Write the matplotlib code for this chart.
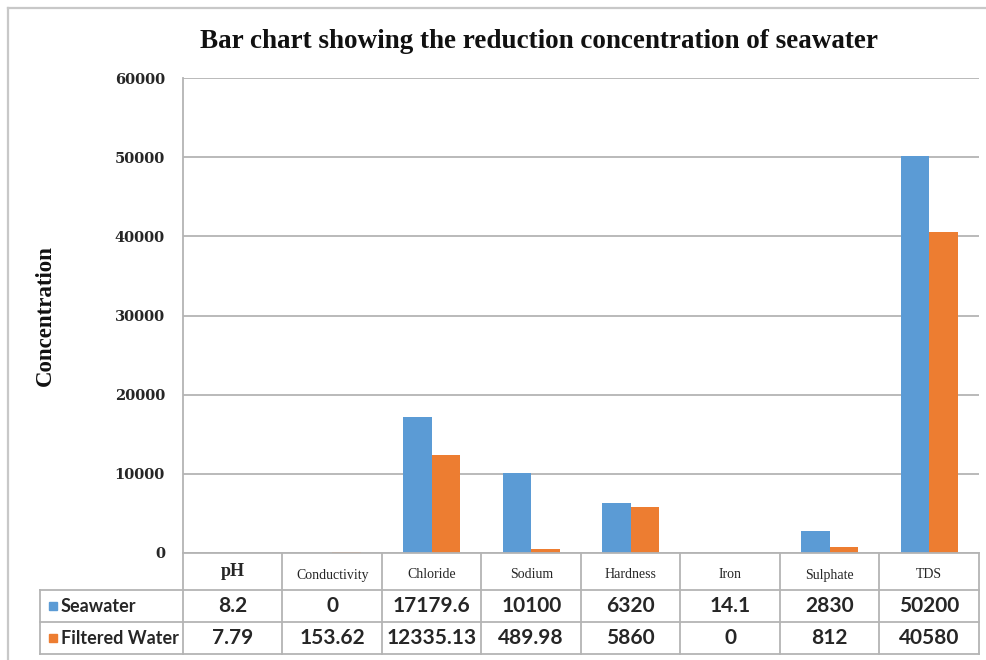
import matplotlib
matplotlib.use("Agg")
import matplotlib.pyplot as plt
from matplotlib.lines import Line2D
from matplotlib.patches import Rectangle
from matplotlib import transforms
import numpy as np

categories = ["pH", "Conductivity", "Chloride", "Sodium", "Hardness", "Iron", "Sulphate", "TDS"]
series_names = ["Seawater", "Filtered Water"]
seawater = [8.2, 0, 17179.6, 10100, 6320, 14.1, 2830, 50200]
filtered = [7.79, 153.62, 12335.13, 489.98, 5860, 0, 812, 40580]
y_ticks = [0, 10000, 20000, 30000, 40000, 50000, 60000]

BLUE = "#5B9BD5"
ORANGE = "#ED7D31"
GRID = "#B4B4B4"
TEXT = "#262626"
W, H = 987, 660

fig = plt.figure(figsize=(W / 100, H / 100), dpi=100)
ax = fig.add_axes([183 / W, 1 - 553 / H, 796 / W, 475 / H])

x = np.arange(len(categories))
bw = 1 / 3.5
ax.bar(x - bw / 2, seawater, bw, color=BLUE, zorder=3)
ax.bar(x + bw / 2, filtered, bw, color=ORANGE, zorder=3)
ax.set_xlim(-0.5, len(categories) - 0.5)
ax.set_ylim(0, 60000)
ax.set_yticks(y_ticks)
ax.set_yticklabels([str(t) for t in y_ticks], fontfamily="DejaVu Serif",
                   fontweight="bold", fontsize=10.5, color=TEXT)
ax.tick_params(axis="y", length=0, pad=13)
ax.set_xticks([])
ax.yaxis.grid(True, color=GRID, lw=1.3)
ax.set_axisbelow(True)
for s in ["top", "right", "bottom"]:
    ax.spines[s].set_visible(False)
ax.spines["left"].set_color(GRID)
ax.spines["left"].set_linewidth(1.3)

# pixel-space helpers (origin top-left)
pxT = transforms.Affine2D().scale(1 / W, -1 / H).translate(0, 1) + fig.transFigure
colT = transforms.blended_transform_factory(ax.transData, pxT)

def hline(x0, x1, y, tr):
    fig.add_artist(Line2D([x0, x1], [y, y], transform=tr, color=GRID, lw=1.3))

def vline(xv, y0, y1, tr):
    fig.add_artist(Line2D([xv, xv], [y0, y1], transform=tr, color=GRID, lw=1.3))

# data table beneath the plot
n = len(categories)
row_top, row_hdr, row_1, row_2 = 553, 590, 622, 654
for yy in (row_top, row_hdr, row_1, row_2):
    hline(-0.5, n - 0.5, yy, colT)
for yy in (row_hdr, row_1, row_2):
    hline(40, 183, yy, pxT)
for i in range(n + 1):
    vline(i - 0.5, row_top, row_2, colT)
vline(40, row_hdr, row_2, pxT)

def fmt(v):
    return ("%.2f" % v).rstrip("0").rstrip(".")

for i, c in enumerate(categories):
    if c == "pH":
        fig.text(i, 572, c, transform=colT, ha="center", va="center",
                 fontfamily="Liberation Serif", fontweight="bold", fontsize=13, color=TEXT)
    else:
        fig.text(i, 575, c, transform=colT, ha="center", va="center",
                 fontfamily="Liberation Serif", fontsize=10, color=TEXT)
    fig.text(i, 606, fmt(seawater[i]), transform=colT, ha="center", va="center",
             fontfamily="Lato", fontweight="bold", fontsize=15, color=TEXT)
    fig.text(i, 638, fmt(filtered[i]), transform=colT, ha="center", va="center",
             fontfamily="Lato", fontweight="bold", fontsize=15, color=TEXT)

for name, color, yc in ((series_names[0], BLUE, 606), (series_names[1], ORANGE, 638)):
    fig.add_artist(Rectangle((49, yc - 4), 8, 8, transform=pxT, color=color))
    fig.text(61, yc, name, transform=pxT, ha="left", va="center",
             fontfamily="Lato", fontweight="bold", fontsize=13, color=TEXT)

fig.text(539, 42, "Bar chart showing the reduction concentration of seawater", transform=pxT,
         ha="center", va="center", fontfamily="Liberation Serif", fontweight="bold",
         fontsize=19.5, color="#111111")
fig.text(45, 316, "Concentration", transform=pxT, rotation=90, ha="center", va="center",
         fontfamily="Liberation Serif", fontweight="bold", fontsize=16.5, color="#111111")

# outer chart frame
fig.add_artist(Line2D([8, W], [8, 8], transform=pxT, color="#C8C8C8", lw=1.6))
fig.add_artist(Line2D([8, 8], [8, H], transform=pxT, color="#C8C8C8", lw=1.6))

fig.savefig("out.png", dpi=100)
